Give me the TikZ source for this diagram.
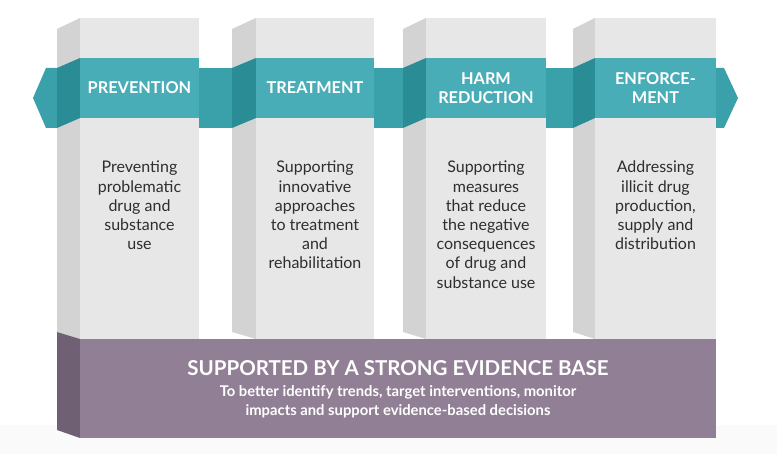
\documentclass[tikz,border=0pt]{standalone}
\usepackage{fontspec}
\setmainfont{Lato}
\usetikzlibrary{positioning,calc}
\definecolor{pilfront}{HTML}{E7E7E7}
\definecolor{pilside}{HTML}{D3D3D3}
\definecolor{tealfront}{HTML}{49ADB7}
\definecolor{tealside}{HTML}{2A8C95}
\definecolor{tealmid}{HTML}{3AA0A9}
\definecolor{purfront}{HTML}{917F95}
\definecolor{purside}{HTML}{6F6173}
\definecolor{floorgray}{HTML}{FAFAFA}
\definecolor{bodytext}{HTML}{2E2E2E}

\begin{document}
\begin{tikzpicture}[
 x=1pt,y=-1pt,
 head/.style={text=white,font=\fontsize{16.3}{18.5}\selectfont\bfseries,align=center,inner sep=0pt},
 body/.style={text=bodytext,font=\fontsize{16}{19.2}\selectfont,align=center,inner sep=0pt,anchor=north},
 base/.style={text=white,align=center,inner sep=0pt}
]
\useasboundingbox (0,0) rectangle (777,454);
\fill[floorgray] (0,425) rectangle (777,454);

% pillars: side x, front left, front right
\foreach \s/\f/\r in {57/80/199,232/256/374,403/426/546,573/595/716}{
  \fill[pilside] (\s,29) -- (\f,18) -- (\f,339) -- (\s,332) -- cycle;
  \fill[pilfront] (\f,18) rectangle (\r,339);
}

% ribbon between the pillars
\fill[tealmid] (57,68) -- (46,68) -- (33,98) -- (46,128) -- (57,128) -- cycle;
\fill[tealmid] (199,68) rectangle (232,128);
\fill[tealmid] (374,68) rectangle (403,128);
\fill[tealmid] (546,68) rectangle (573,128);
\fill[tealmid] (716,68) -- (724,68) -- (738,98) -- (724,128) -- (716,128) -- cycle;
\foreach \s/\f/\r in {57/80/199,232/256/374,403/426/546,573/595/716}{
  \fill[tealside] (\s,68) -- (\f,58) -- (\f,118) -- (\s,128) -- cycle;
  \fill[tealfront] (\f,58) rectangle (\r,118);
}

% base
\fill[purside] (57,332) -- (80,339) -- (80,438) -- (57,430) -- cycle;
\fill[purfront] (80,339) rectangle (716,438);

% headings
\node[head] (prev) at (139.5,88) {PREVENTION};
\node[head] (treat) at (315,88) {TREATMENT};
\node[head] (harm) at (486,88) {HARM\\REDUCTION};
\node[head] (enf) at (655.5,88) {ENFORCE-\\MENT};

% descriptions
\node[body] (prevtxt) at (139.5,161) {Preventing\\problematic\\drug and\\substance\\use};
\node[body] (treattxt) at (315,161) {Supporting\\innovative\\approaches\\to treatment\\and\\rehabilitation};
\node[body] (harmtxt) at (486,161) {Supporting\\measures\\that reduce\\the negative\\consequences\\of drug and\\substance use};
\node[body] (enftxt) at (655.5,161) {Addressing\\illicit drug\\production,\\supply and\\distribution};

% evidence base
\node[base,font=\fontsize{20.5}{24}\selectfont\bfseries] (evid) at (398,368) {SUPPORTED BY A STRONG EVIDENCE BASE};
\node[base,font=\fontsize{14.8}{18.5}\selectfont\bfseries,below=10pt of evid] (evidtxt) {To better identify trends, target interventions, monitor\\impacts and support evidence-based decisions};
\end{tikzpicture}
\end{document}
